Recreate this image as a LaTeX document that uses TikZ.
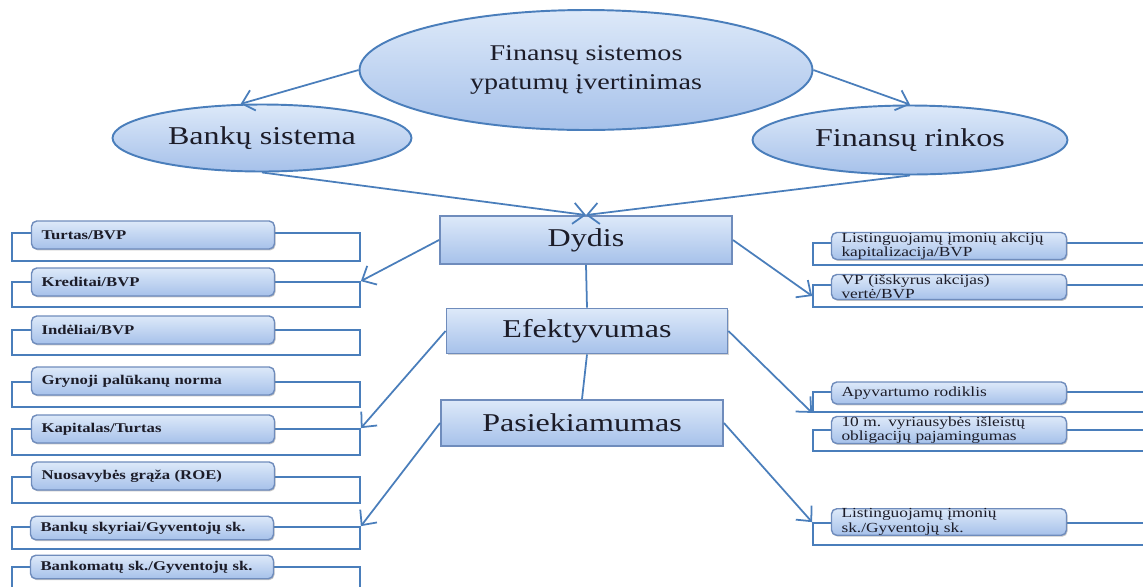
\documentclass[tikz,border=0pt]{standalone}
\usepackage{fontspec}
\setmainfont{Liberation Serif}[FakeStretch=1.25]
\usepackage{tikz}
\usetikzlibrary{shapes.geometric, fit, positioning, arrows.meta, shadows}

\definecolor{linecol}{HTML}{4A7EBB}
\definecolor{filltop}{HTML}{DDE9F9}
\definecolor{fillbot}{HTML}{A6C1EA}
\definecolor{boxline}{HTML}{6F8CBC}
\definecolor{txtcol}{HTML}{1C1C28}

\begin{document}
\begin{tikzpicture}[
  x=0.02cm, y=-0.02cm,
  ellnode/.style={draw=linecol,ellipse,line width=1.1pt,top color=filltop,bottom color=fillbot,
    inner sep=0pt,align=center,text=txtcol,font=\fontsize{14.6}{17}\selectfont},
  mainnode/.style={draw=boxline,line width=1.1pt,top color=filltop,bottom color=fillbot,
    drop shadow={shadow xshift=0.8pt,shadow yshift=-0.8pt,opacity=0.35},
    inner sep=0pt,text=txtcol,font=\fontsize{14.6}{17}\selectfont},
  framenode/.style={draw=linecol,line width=1pt,inner sep=0pt},
  leftnode/.style={draw=boxline,line width=0.8pt,rounded corners=3pt,top color=filltop,bottom color=fillbot,
    drop shadow={shadow xshift=0.6pt,shadow yshift=-0.8pt,opacity=0.45},
    text width=4.46cm,inner xsep=0.2cm,inner ysep=0pt,minimum height=0.56cm,align=left,
    text=txtcol,font=\fontsize{7.6}{9}\selectfont\bfseries},
  rightnode/.style={leftnode,text width=4.3cm,minimum height=0.5cm,
    font=\fontsize{7.9}{6.9}\selectfont},
  arr/.style={-{Straight Barb[length=6.5pt,width=12pt]}},
  conn/.style={draw=linecol,line width=1pt}
]
\useasboundingbox (0,0) rectangle (1143,586);

% top level
\node[ellnode,minimum width=9.06cm,minimum height=2.4cm,font=\fontsize{12.8}{17}\selectfont] (top) at (586,70)
  {Finansų sistemos\\ypatumų įvertinimas};
\node[ellnode,minimum width=5.98cm,minimum height=1.34cm] (bankai) at (262,138) {Bankų sistema};
\node[ellnode,minimum width=6.3cm,minimum height=1.38cm] (rinkos) at (910,140) {Finansų rinkos};

% middle
\node[mainnode,minimum width=5.84cm,minimum height=0.96cm] (dydis) at (586,240) {Dydis};
\node[mainnode,minimum width=5.62cm,minimum height=0.9cm] (efekt) at (587,331) {Efektyvumas};
\node[mainnode,minimum width=5.64cm,minimum height=0.92cm] (pasiek) at (582,423) {Pasiekiamumas};

% left frames
\node[framenode,fit={(12,233) (360,261)}] (turtasf) {};
\node[framenode,fit={(12,282) (360,307)}] (kreditaif) {};
\node[framenode,fit={(12,330) (360,355)}] (indeliaif) {};
\node[framenode,fit={(12,382) (360,407)}] (grynojif) {};
\node[framenode,fit={(12,429) (360,455)}] (kapitalasf) {};
\node[framenode,fit={(12,477) (360,503)}] (roef) {};
\node[framenode,fit={(12,527) (360,549)}] (skyriaif) {};
\node[framenode,fit={(12,567) (360,595)}] (bankomataif) {};

% left boxes
\node[leftnode] (turtas) at (153,235) {Turtas/BVP};
\node[leftnode] (kreditai) at (153,282) {Kreditai/BVP};
\node[leftnode] (indeliai) at (153,330) {Indėliai/BVP};
\node[leftnode] (grynoji) at (153,381) {Grynoji palūkanų norma};
\node[leftnode] (kapitalas) at (153,429) {Kapitalas/Turtas};
\node[leftnode] (roe) at (153,476) {Nuosavybės grąža (ROE)};
\node[leftnode,minimum height=0.47cm] (skyriai) at (152,528) {Bankų skyriai/Gyventojų sk.};
\node[leftnode,minimum height=0.47cm] (bankomatai) at (152,567) {Bankomatų sk./Gyventojų sk.};

% right frames
\node[framenode,fit={(813,243) (1160,265)}] (kapitalizacijaf) {};
\node[framenode,fit={(813,285) (1160,307)}] (vpf) {};
\node[framenode,fit={(813,392) (1160,412)}] (apyvartaf) {};
\node[framenode,fit={(813,430) (1160,451)}] (obligf) {};
\node[framenode,fit={(813,523) (1160,545)}] (listingf) {};

% right boxes
\node[rightnode] (kapitalizacija) at (949,246) {Listinguojamų įmonių akcijų\\kapitalizacija/BVP};
\node[rightnode] (vp) at (949,287) {VP (išskyrus akcijas)\\vertė/BVP};
\node[rightnode,minimum height=0.44cm] (apyvarta) at (949,393) {Apyvartumo rodiklis};
\node[rightnode] (oblig) at (949,430) {10 m. vyriausybės išleistų\\obligacijų pajamingumas};
\node[rightnode] (listing) at (949,522) {Listinguojamų įmonių\\sk./Gyventojų sk.};

\path[conn] (top.west) edge[arr] (bankai.122)
(top.east) edge[arr] (rinkos.north)
(bankai.south) edge[arr] (dydis.north)
(rinkos.south) edge[arr] (dydis.north)
(dydis.west) edge[arr] (kreditaif.north east)
(efekt.west) edge[arr] (kapitalasf.north east)
(pasiek.west) edge[arr] (skyriaif.north east)
(dydis.east) edge[arr] (vpf.west)
(efekt.east) edge[arr] (apyvartaf.south west)
(pasiek.east) edge[arr] (listingf.north west)
(dydis.south) edge (efekt.north)
(efekt.south) edge (pasiek.north);

\end{tikzpicture}
\end{document}
